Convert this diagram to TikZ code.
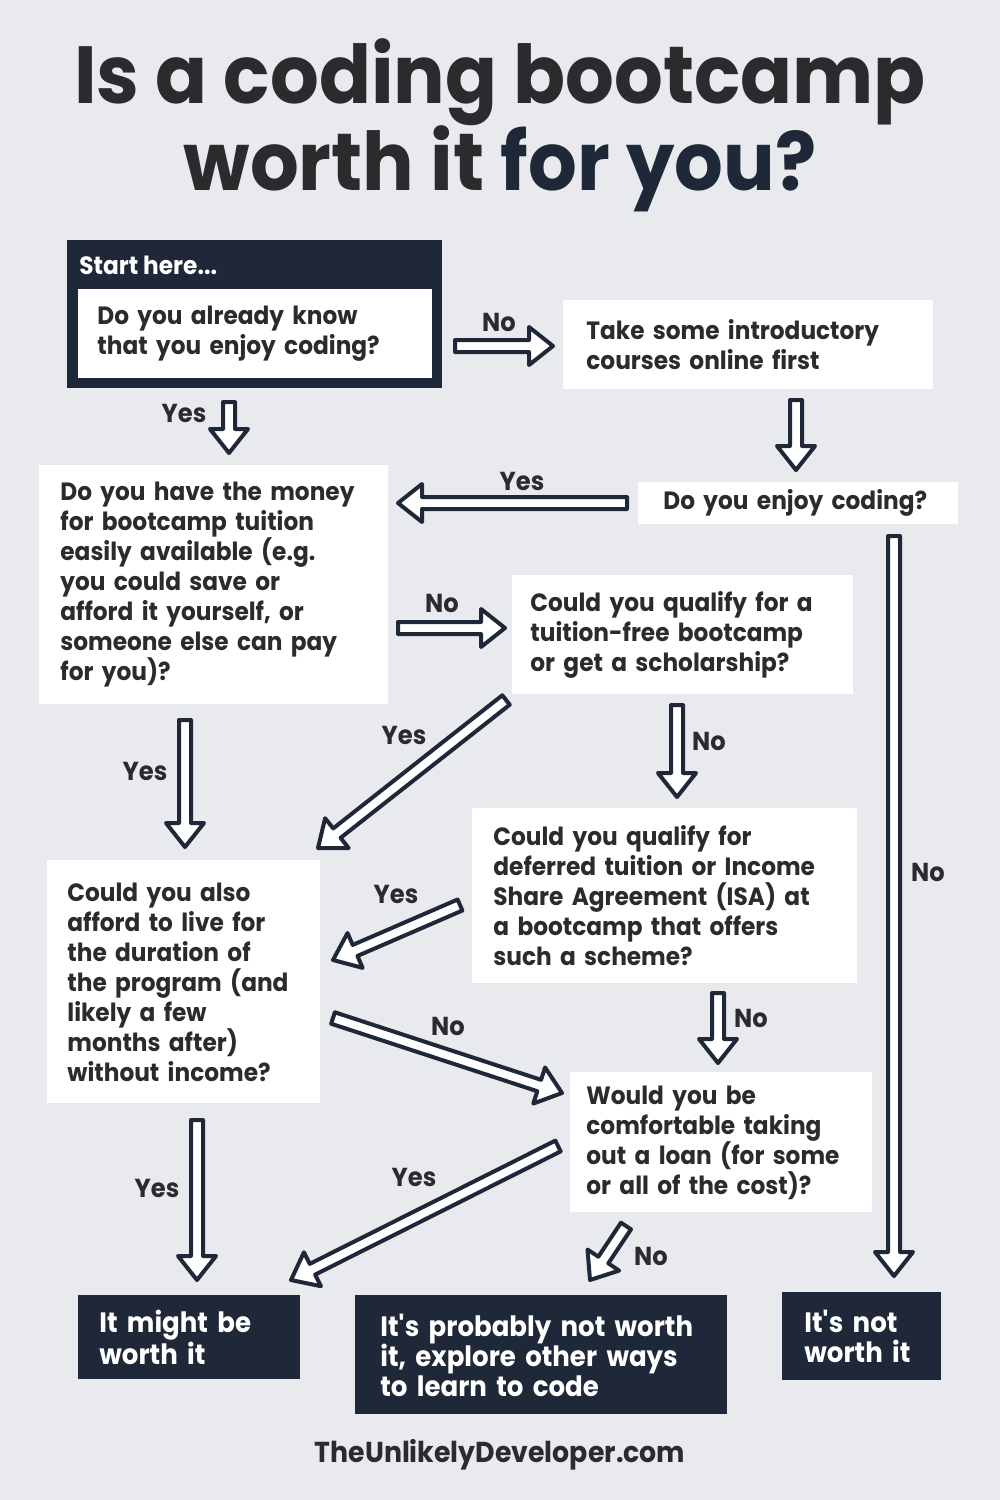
\documentclass[tikz,border=0pt]{standalone}
\usepackage{fontspec}
\setmainfont{Poppins}[FakeStretch=0.93]
\newfontfamily\titlefont{Poppins}[FakeStretch=0.946]
\usetikzlibrary{calc,positioning}
\hyphenpenalty=10000
\exhyphenpenalty=10000

\definecolor{paper}{HTML}{E9EAEE}
\definecolor{navy}{HTML}{1F2838}
\definecolor{ink}{HTML}{2B2B2E}

\tikzset{
  qbox/.style={fill=white, anchor=north west, align=left, inner ysep=0pt,
    text=ink, font=\fontsize{12.5}{15}\selectfont\bfseries},
  endbox/.style={fill=navy, anchor=north west, align=left, inner ysep=0pt,
    text=white, font=\fontsize{14}{15}\selectfont\bfseries},
  lbl/.style={text=ink, inner sep=0pt, font=\fontsize{13}{15}\selectfont\bfseries},
  harrowline/.style={draw=navy, fill=white, line width=2pt, line join=round},
}

% hollow block arrow between two named points
\newcommand\harrow[2]{%
  \draw[harrowline] let \p1=($(#2)-(#1)$), \n1={atan2(\y1,\x1)},
      \n2={veclen(\x1,\y1)-12pt} in
    ($(#1)+(\n1+90:3pt)$) -- ($(#1)+(\n1:\n2)+(\n1+90:3pt)$)
    -- ($(#1)+(\n1:\n2)+(\n1+90:9.5pt)$) -- (#2)
    -- ($(#1)+(\n1:\n2)+(\n1-90:9.5pt)$) -- ($(#1)+(\n1:\n2)+(\n1-90:3pt)$)
    -- ($(#1)+(\n1-90:3pt)$) -- cycle;}

\begin{document}
\begin{tikzpicture}[x=0.5pt,y=-0.5pt]
  \fill[paper] (0,0) rectangle (1000,1500);
  \useasboundingbox (0,0) rectangle (1000,1500);

  % title
  \node[anchor=base, text=ink, font=\titlefont\fontsize{40.5}{44}\selectfont\bfseries] (title1) at (500,103) {Is a coding bootcamp};
  \node[anchor=base, text=ink, font=\titlefont\fontsize{40.5}{44}\selectfont\bfseries] (title2) at (500,190) {worth it \textcolor{navy}{for you?}};

  % questions
  \node[fill=navy, anchor=north west, minimum width=187.5pt, minimum height=74pt] (start) at (67,240) {};
  \node[anchor=west, text=white, inner sep=0pt, font=\fontsize{12.5}{15}\selectfont\bfseries] (starthere) at (79,265) {Start here...};
  \node[qbox, minimum width=177pt, minimum height=44.5pt, inner xsep=9.5pt, text width=158pt] (know) at (78,289)
    {Do you already know\\that you enjoy coding?};
  \node[qbox, minimum width=185pt, minimum height=44.5pt, inner xsep=11.5pt, text width=162pt] (intro) at (563,300)
    {Take some introductory\\courses online first};
  \node[qbox, minimum width=160pt, minimum height=21pt, inner xsep=12.5pt, text width=135pt] (enjoy) at (638,482)
    {\mbox{Do you enjoy coding?}};
  \node[qbox, minimum width=174.5pt, minimum height=119.5pt, inner xsep=10.5pt, text width=153.5pt] (money) at (39,465)
    {Do you have the money\\for bootcamp tuition\\easily available (e.g.\\you could save or\\afford it yourself, or\\someone else can pay\\for you)?};
  \node[qbox, minimum width=170.5pt, minimum height=59.5pt, inner xsep=9pt, text width=152.5pt] (free) at (512,575)
    {Could you qualify for a\\tuition-free bootcamp\\or get a scholarship?};
  \node[qbox, minimum width=192.5pt, minimum height=87.5pt, inner xsep=10.5pt, text width=171.5pt] (isa) at (472,808)
    {Could you qualify for\\deferred tuition or Income\\Share Agreement (ISA) at\\a bootcamp that offers\\such a scheme?};
  \node[qbox, minimum width=136.5pt, minimum height=121.5pt, inner xsep=10pt, text width=116.5pt] (live) at (47,860)
    {Could you also\\afford to live for\\the duration of\\the program (and\\likely a few\\months after)\\without income?};
  \node[qbox, minimum width=151pt, minimum height=70pt, inner xsep=8pt, text width=135pt] (loan) at (570,1072)
    {Would you be\\comfortable taking\\out a loan (for some\\or all of the cost)?};

  % outcomes
  \node[endbox, minimum width=111pt, minimum height=42pt, inner xsep=10.5pt, text width=90pt] (might) at (78,1295)
    {It might be\\worth it};
  \node[endbox, minimum width=186pt, minimum height=59.5pt, inner xsep=12.5pt, text width=161pt] (probnot) at (355,1295)
    {It\textquotesingle s probably not worth\\it, explore other ways\\to learn to code};
  \node[endbox, minimum width=79.5pt, minimum height=44pt, inner xsep=11pt, text width=57.5pt] (notworth) at (782,1292)
    {It\textquotesingle s not\\worth it};

  % arrow ends
  \coordinate (knowE) at (455,346);   \coordinate (introW) at (553,346);
  \coordinate (knowS) at (229,402);   \coordinate (moneyN) at (229,453);
  \coordinate (introS) at (796,400);  \coordinate (enjoyN) at (796,470);
  \coordinate (enjoyW) at (627,503);  \coordinate (moneyE) at (398,503);
  \coordinate (moneyE2) at (398,628); \coordinate (freeW) at (505,628);
  \coordinate (freeSW) at (506,700);  \coordinate (liveNE) at (318,848);
  \coordinate (moneyS) at (185,720);  \coordinate (liveN) at (185,847);
  \coordinate (freeS) at (677,705);   \coordinate (isaN) at (677,797);
  \coordinate (isaW) at (460,905);    \coordinate (liveE) at (333,960);
  \coordinate (liveE2) at (333,1018); \coordinate (loanW) at (562,1093);
  \coordinate (isaS) at (718,993);    \coordinate (loanN) at (718,1063);
  \coordinate (loanW2) at (558,1146); \coordinate (mightNE) at (291,1280);
  \coordinate (loanS) at (626,1226);  \coordinate (probN) at (590,1280);
  \coordinate (liveS) at (197,1120);  \coordinate (mightN) at (197,1280);
  \coordinate (enjoyS) at (894,536);  \coordinate (notN) at (894,1276);

  \harrow{knowE}{introW}
  \harrow{knowS}{moneyN}
  \harrow{introS}{enjoyN}
  \harrow{enjoyW}{moneyE}
  \harrow{moneyE2}{freeW}
  \harrow{freeSW}{liveNE}
  \harrow{moneyS}{liveN}
  \harrow{freeS}{isaN}
  \harrow{isaW}{liveE}
  \harrow{liveE2}{loanW}
  \harrow{isaS}{loanN}
  \harrow{loanW2}{mightNE}
  \harrow{loanS}{probN}
  \harrow{liveS}{mightN}
  \harrow{enjoyS}{notN}

  % labels
  \node[lbl] (l1) at (499,322) {No};
  \node[lbl] (l2) at (184,413) {Yes};
  \node[lbl] (l3) at (522,481) {Yes};
  \node[lbl] (l4) at (442,603) {No};
  \node[lbl] (l5) at (404,735) {Yes};
  \node[lbl] (l6) at (145,771) {Yes};
  \node[lbl] (l7) at (709,741) {No};
  \node[lbl] (l8) at (396,894) {Yes};
  \node[lbl] (l9) at (448,1026) {No};
  \node[lbl] (l10) at (751,1018) {No};
  \node[lbl] (l11) at (414,1177) {Yes};
  \node[lbl] (l12) at (651,1256) {No};
  \node[lbl] (l13) at (157,1188) {Yes};
  \node[lbl] (l14) at (928,872) {No};

  % footer
  \node[text=ink, font=\fontsize{14.4}{16}\selectfont\bfseries] (site) at (500,1455) {TheUnlikelyDeveloper.com};
\end{tikzpicture}
\end{document}
